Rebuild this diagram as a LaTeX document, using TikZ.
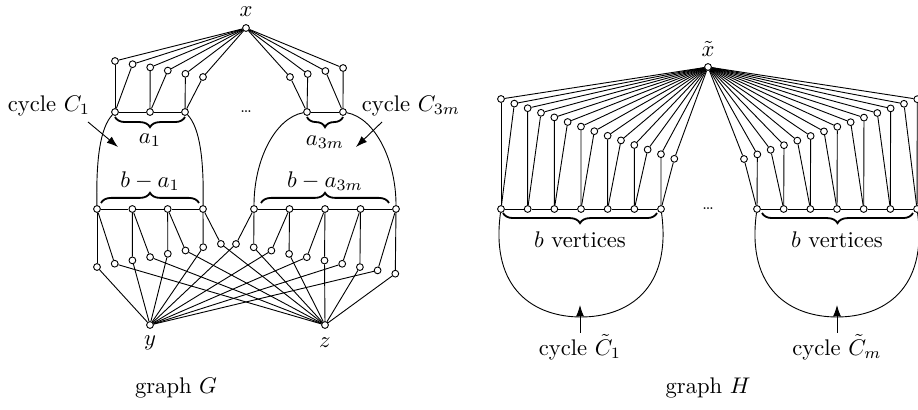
\documentclass[tikz,border=0pt]{standalone}
\usetikzlibrary{decorations.pathreplacing,arrows.meta}
\begin{document}
\begin{tikzpicture}[x=0.442pt,y=-0.442pt,
  vtx/.style={circle,draw,fill=white,inner sep=0pt,minimum size=3pt,line width=0.4pt},
  edge/.style={line width=0.4pt},
  brc/.style={decorate,decoration={brace,amplitude=4.5pt},line width=0.8pt},
  brcm/.style={decorate,decoration={brace,amplitude=4.5pt,mirror},line width=0.8pt},
  lbl/.style={inner sep=0pt},
  arr/.style={-{Latex[length=5pt,width=3.5pt]},line width=0.4pt}]
\useasboundingbox (0,0) rectangle (918,410);
\clip (0,0) rectangle (918,410);

% ================= graph G =================
\node[vtx] (x) at (246,28) {};
\node[lbl] (xl) at (246,12) {$x$};
\node[vtx] (y) at (150,325) {};
\node[lbl] (yl) at (150,343) {$y$};
\node[vtx] (z) at (325,325) {};
\node[lbl] (zl) at (325,343) {$z$};

% top rows
\foreach \i/\xx in {0/115,1/150,2/185} \node[vtx] (t\i) at (\xx,112) {};
\foreach \i/\xx in {0/307,1/343} \node[vtx] (s\i) at (\xx,112) {};
\foreach \k in {0,...,5} \node[vtx] (p\k) at ({115+17.6*\k},{61+3.2*\k}) {};
\foreach \k in {0,...,3} \node[vtx] (q\k) at ({290+17.7*\k},{77-3*\k}) {};
\foreach \k [evaluate=\k as \pp using {int(\k/2)}] in {0,...,5} {
  \draw[edge] (t\pp) -- (p\k);
  \draw[edge] (p\k) -- (x);
}
\foreach \k [evaluate=\k as \pp using {int(\k/2)}] in {0,...,3} {
  \draw[edge] (s\pp) -- (q\k);
  \draw[edge] (q\k) -- (x);
}
\draw[edge] (t0) -- (t1) -- (t2);
\draw[edge] (s0) -- (s1);

% bottom rows
\foreach \i in {0,...,3} \node[vtx] (u\i) at ({97+35.33*\i},209) {};
\foreach \i in {0,...,4} \node[vtx] (v\i) at ({254+35.5*\i},209) {};
\foreach \k in {0,...,7} \node[vtx] (a\k) at ({97+17.7*\k},{267-3.3*\k}) {};
\foreach \k in {0,...,9} \node[vtx] (b\k) at ({236+17.7*\k},{244+3.3*\k}) {};
\foreach \k [evaluate=\k as \pp using {int(\k/2)}] in {0,...,7} \draw[edge] (u\pp) -- (a\k);
\foreach \k [evaluate=\k as \pp using {int(\k/2)}] in {0,...,9} \draw[edge] (v\pp) -- (b\k);
\foreach \k in {0,2,4,6} \draw[edge] (a\k) -- (y);
\foreach \k in {1,3,5,7} \draw[edge] (a\k) -- (z);
\foreach \k in {0,2,4,6,8} \draw[edge] (b\k) -- (y);
\foreach \k in {1,3,5,7,9} \draw[edge] (b\k) -- (z);
\draw[edge] (u0) -- (u1) -- (u2) -- (u3);
\draw[edge] (v0) -- (v1) -- (v2) -- (v3) -- (v4);

% cycles
\draw[edge] (u0) .. controls (96,160) and (100,128) .. (t0);
\draw[edge] (u3) .. controls (204,160) and (200,128) .. (t2);
\draw[edge] (v0) .. controls (254,160) and (275,118) .. (s0);
\draw[edge] (v4) .. controls (396,160) and (375,118) .. (s1);

% braces and labels
\draw[brcm] (115,117) -- (185,117);
\draw[brcm] (307,117) -- (343,117);
\node[lbl] (la1) at (150,140) {$a_1$};
\node[lbl] (la3m) at (325,142) {$a_{3m}$};
\draw[brc] (101,203) -- (199,203);
\draw[brc] (261,203) -- (389,203);
\node[lbl] (lba1) at (150,181) {$b-a_1$};
\node[lbl] (lba3m) at (325,181) {$b-a_{3m}$};
\node[lbl] (gdots) at (246,112) {\scriptsize\dots};

\node[lbl] (cc1) at (49,106) {cycle $C_1$};
\node[lbl] (cc3m) at (411,106) {cycle $C_{3m}$};
\coordinate (ca1) at (88,122);
\coordinate (cb1) at (118,147);
\draw[arr] (ca1) -- (cb1);
\coordinate (ca2) at (382,122);
\coordinate (cb2) at (356,147);
\draw[arr] (ca2) -- (cb2);
\node[lbl] (gG) at (176,388) {graph $G$};

% ================= graph H =================
\node[vtx] (xt) at (708,67) {};
\node[lbl] (xtl) at (708,49) {$\tilde{x}$};
\foreach \i in {0,...,6} \node[vtx] (r\i) at ({501+26.67*\i},209) {};
\foreach \i in {0,...,6} \node[vtx] (rr\i) at ({757+26.67*\i},209) {};
\foreach \k in {0,...,13} \node[vtx] (h\k) at ({501+13.33*\k},{99+4.6*\k}) {};
\foreach \k in {0,...,13} \node[vtx] (hh\k) at ({744+13.33*\k},{159-4.6*\k}) {};
\foreach \k [evaluate=\k as \pp using {int(\k/2)}] in {0,...,13} {
  \draw[edge] (r\pp) -- (h\k);
  \draw[edge] (h\k) -- (xt);
  \draw[edge] (rr\pp) -- (hh\k);
  \draw[edge] (hh\k) -- (xt);
}
\draw[edge] (r0) -- (r1) -- (r2) -- (r3) -- (r4) -- (r5) -- (r6);
\draw[edge] (rr0) -- (rr1) -- (rr2) -- (rr3) -- (rr4) -- (rr5) -- (rr6);
\node[lbl] (hdots) at (708,209) {\scriptsize\dots};

\draw[edge] (r0) .. controls (490,290) and (535,317) .. (581,317)
  .. controls (627,317) and (672,290) .. (r6);
\draw[edge] (rr0) .. controls (746,290) and (791,317) .. (837,317)
  .. controls (883,317) and (928,290) .. (rr6);

\draw[brcm] (503,213) -- (657,213);
\draw[brcm] (762,213) -- (913,213);
\node[lbl] (bv1) at (580,240) {$b$ vertices};
\node[lbl] (bv2) at (837,240) {$b$ vertices};

\coordinate (ha1) at (580,333);
\coordinate (hb1) at (580,305);
\draw[arr] (ha1) -- (hb1);
\coordinate (ha2) at (837,333);
\coordinate (hb2) at (837,305);
\draw[arr] (ha2) -- (hb2);
\node[lbl] (hc1) at (580,347) {cycle $\tilde{C}_1$};
\node[lbl] (hcm) at (837,347) {cycle $\tilde{C}_m$};
\node[lbl] (gH) at (708,388) {graph $H$};
\end{tikzpicture}
\end{document}
